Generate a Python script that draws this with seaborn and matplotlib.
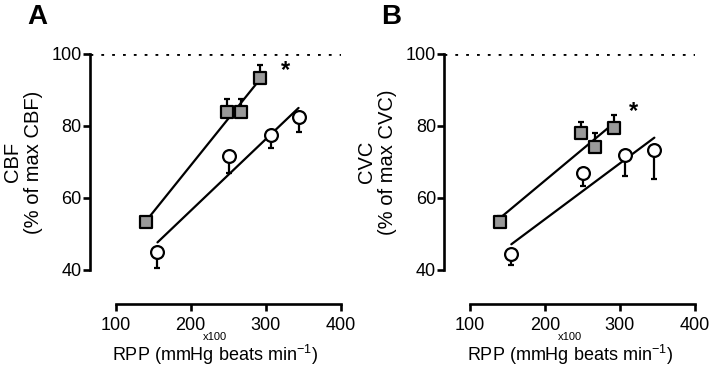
import numpy as np
import pandas as pd
import matplotlib
matplotlib.use("Agg")
import matplotlib.pyplot as plt
import seaborn as sns

sns.set_style("ticks")
plt.rcParams["font.family"] = ["Liberation Sans", "DejaVu Sans"]
plt.rcParams["mathtext.fontset"] = "custom"
plt.rcParams["mathtext.rm"] = "Liberation Sans"
plt.rcParams["mathtext.default"] = "regular"
plt.rcParams["text.color"] = "black"
plt.rcParams["axes.labelcolor"] = "black"

# panel A: CBF
a_sq_x = [140, 249, 267, 292]
a_sq_y = [53.3, 83.9, 84.0, 93.3]
a_sq_err = [0.0, 3.5, 3.4, 3.6]
a_ci_x = [155.6, 251, 306.7, 344]
a_ci_y = [45.1, 71.8, 77.6, 82.4]
a_ci_err = [4.6, 4.9, 3.8, 4.0]

# panel B: CVC
b_sq_x = [139.5, 248.4, 267, 292]
b_sq_y = [53.4, 78.0, 74.1, 79.4]
b_sq_err = [1.6, 3.2, 3.9, 3.7]
b_ci_x = [155, 250.7, 307, 346]
b_ci_y = [44.4, 67.0, 71.9, 73.3]
b_ci_err = [3.0, 3.6, 5.8, 8.0]

y_ticks = [40, 60, 80, 100]
x_ticks = [100, 200, 300, 400]

panels = [
    dict(letter="A", ylab="CBF\n(% of max CBF)", sq=(a_sq_x, a_sq_y, a_sq_err),
         ci=(a_ci_x, a_ci_y, a_ci_err), star=(326.7, 98.6), left=90),
    dict(letter="B", ylab="CVC\n(% of max CVC)", sq=(b_sq_x, b_sq_y, b_sq_err),
         ci=(b_ci_x, b_ci_y, b_ci_err), star=(318, 87.3), left=444.3),
]

W, H = 709, 366
fig = plt.figure(figsize=(7.09, 3.66), dpi=100)

for p in panels:
    ax = fig.add_axes([p["left"] / W, 1 - 270 / H, 250.5 / W, 216 / H])
    sx, sy, se = p["sq"]
    cx, cy, ce = p["ci"]

    # regression lines
    sns.regplot(x=np.array(sx), y=np.array(sy), ci=None, scatter=False, ax=ax,
                color="black", line_kws={"lw": 1.6, "zorder": 2})
    sns.regplot(x=np.array(cx), y=np.array(cy), ci=None, scatter=False, ax=ax,
                color="black", line_kws={"lw": 1.6, "zorder": 2})

    # one-sided error bars
    ax.errorbar(sx, sy, yerr=[np.zeros(len(se)), se], fmt="none", ecolor="black",
                elinewidth=1.6, capsize=2.5, capthick=1.6, zorder=3)
    ax.errorbar(cx, cy, yerr=[ce, np.zeros(len(ce))], fmt="none", ecolor="black",
                elinewidth=1.6, capsize=2.5, capthick=1.6, zorder=3)

    sns.scatterplot(x=sx, y=sy, ax=ax, marker="s", s=75, color="#999999",
                    edgecolor="black", linewidth=1.6, zorder=4, clip_on=False)
    sns.scatterplot(x=cx, y=cy, ax=ax, marker="o", s=85, color="white",
                    edgecolor="black", linewidth=1.6, zorder=4, clip_on=False)

    ax.axhline(100, color="black", lw=2.0, ls=(0, (1, 2.9)), zorder=1)

    ax.set_xlim(65.5, 400)
    ax.set_ylim(40, 100)
    ax.set_xticks(x_ticks)
    ax.set_yticks(y_ticks)
    sns.despine(ax=ax)
    ax.spines["bottom"].set_position(("outward", 24.5))
    ax.spines["bottom"].set_bounds(100, 400)
    for s in ["left", "bottom"]:
        ax.spines[s].set_linewidth(1.9)
        ax.spines[s].set_color("black")
    ax.tick_params(axis="both", width=1.9, length=5, labelsize=13,
                   colors="black")
    ax.tick_params(axis="y", pad=1)
    ax.tick_params(axis="x", pad=4)

    ax.set_ylabel(p["ylab"], fontsize=14.5, linespacing=1.15)
    ax.yaxis.set_label_coords(-0.188, 0.5)
    ax.set_xlabel("RPP (mmHg beats min$^{-1}$)", fontsize=13)
    ax.xaxis.set_label_coords(0.5, -0.339)
    ax.text(0.5, -0.334, "x100", transform=ax.transAxes, fontsize=8,
            ha="center", va="bottom")

    ax.text(p["star"][0], p["star"][1], "*", fontsize=17, ha="center", va="top",
            fontweight="bold")
    fig.text((p["left"] - 63) / W, 1 - 4 / H, p["letter"], fontsize=20,
             fontweight="bold", va="top", ha="left")

fig.savefig("out.png", dpi=100)
